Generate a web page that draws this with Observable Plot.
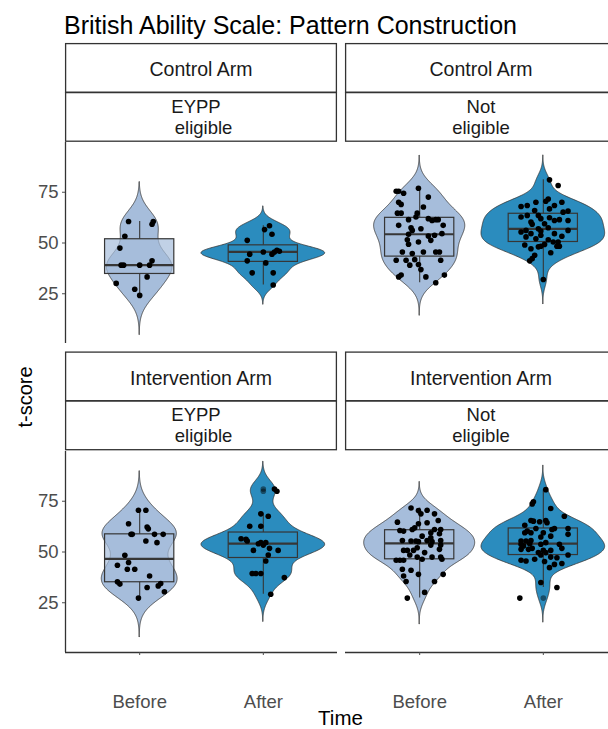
<!DOCTYPE html>
<html><head><meta charset="utf-8">
<script src="https://cdn.jsdelivr.net/npm/d3@7"></script>
<script src="https://cdn.jsdelivr.net/npm/@observablehq/plot@0.6"></script>
<style>
body{margin:0;background:#fff;}
#root{position:relative;width:608px;height:729px;overflow:hidden;background:#fff;font-family:"Liberation Sans",Arial,sans-serif;}
#root svg{position:absolute;}
</style></head><body><div id="root"></div>
<script>
// ---------- data ----------
const title = "British Ability Scale: Pattern Construction";
const times = ["Before", "After"];
const arms = ["Control Arm", "Intervention Arm"];
const eligLeft = ["EYPP  ", " eligible"];
const eligRight = ["Not", "eligible"];
const yTicks = [25, 50, 75];
const yLabel = "t-score";
const xLabel = "Time";

const ctrlEyppBefore = [60.6, 60.6, 59.2, 53.3, 47.5, 39.1, 39.1, 39.1, 39.1, 41.2, 33.3, 30.1, 27.2, 24.2];
const ctrlEyppBeforeJit = [-0.09, 0.11, 0.10, -0.12, -0.16, -0.15, -0.13, 0.0, 0.08, 0.10, 0.06, -0.19, -0.04, 0.0];
const ctrlEyppAfter = [56.6, 58.5, 54.3, 51.3, 44.5, 41.2, 45.6, 44.5, 45.6, 46.4, 45.9, 40.2, 35.3, 35.3, 29.3];
const ctrlEyppAfterJit = [0.01, 0.05, 0.07, -0.13, -0.11, -0.13, 0.0, 0.07, 0.09, 0.11, 0.13, 0.02, -0.09, 0.08, 0.08];

const ctrlNotBefore = [75.5,75.5,74.5,77.0,72.6,70.1,69.0,67.7,64.7,64.7,64.7,62.8,61.5,62.0,61.1,61.5,61.5,58.7,58.7,57.5,56.2,57.0,54.3,53.4,53.8,54.6,51.6,50.5,51.3,49.4,45.6,44.8,45.6,45.6,45.6,41.5,41.5,41.8,41.5,39.1,39.4,36.9,34.2,33.3,34.2,33.3,30.4];
const ctrlNotBeforeJit = [-0.19,-0.17,-0.13,-0.01,0.07,-0.17,-0.15,0.03,-0.18,-0.15,-0.02,-0.03,-0.09,0.07,0.10,0.13,0.15,-0.17,0.19,-0.07,-0.06,0.01,-0.09,0.07,0.12,0.18,-0.10,-0.01,0.09,-0.09,-0.14,-0.06,0.13,0.16,0.03,-0.19,-0.11,-0.04,0.17,-0.08,-0.01,0.01,-0.15,0.05,0.20,-0.17,0.13];
const ctrlNotAfter = [81.1,78.3,71.7,70.6,70.1,70.1,68.0,68.5,68.5,66.8,66.0,65.2,65.7,63.6,63.6,62.8,62.0,62.4,61.1,61.5,61.1,60.3,59.2,59.5,57.0,57.5,56.2,55.9,56.2,55.4,54.6,54.6,53.8,53.3,53.0,52.1,51.6,50.5,49.3,50.5,48.4,48.1,48.4,48.4,47.2,44.0,42.3,41.2,32.0,49.0,45.2];
const ctrlNotAfterJit = [0.05,0.12,0.04,0.02,-0.06,0.15,-0.18,-0.13,0.09,0.05,-0.07,0.16,0.20,-0.13,-0.04,-0.18,-0.02,0.05,0.09,0.13,0.20,-0.10,-0.09,0.01,-0.04,0.04,-0.14,-0.02,0.20,-0.18,-0.10,0.09,-0.02,0.15,-0.14,-0.06,0.04,0.12,0.01,0.08,-0.02,-0.04,0.11,0.13,-0.10,-0.07,-0.09,-0.11,0.0,-0.15,0.06];

const intEyppBefore = [70.6,70.6,63.9,62.3,61.4,58.7,58.7,58.7,58.7,55.4,54.6,48.4,44.8,43.5,41.5,41.5,38.2,35.3,34.2,32.5,34.5,33.3,30.4,27.3];
const intEyppBeforeJit = [-0.01,0.05,-0.09,0.06,0.07,-0.07,-0.06,0.12,0.19,0.05,0.14,-0.12,-0.09,-0.18,-0.04,-0.10,0.08,-0.18,-0.16,0.06,0.17,0.15,0.20,-0.01];
const intEyppAfter = [81.0,79.9,68.8,67.6,62.7,62.7,56.5,56.2,55.4,54.1,54.6,54.6,53.4,50.8,51.8,50.8,48.5,45.6,39.4,39.4,39.4,37.4,29.2];
const intEyppAfterJit = [0.09,0.11,-0.02,0.04,-0.11,-0.02,-0.18,-0.14,-0.13,-0.04,-0.02,0.02,0.0,-0.08,0.05,0.12,0.04,0.02,-0.09,-0.06,-0.02,0.17,0.06];

const intNotBefore = [71.7,70.4,70.6,68.8,68.8,64.7,65.5,63.9,64.4,60.6,60.3,61.1,61.9,59.5,61.1,61.1,59.0,57.8,57.0,55.7,55.4,55.4,55.1,55.7,55.1,55.7,50.8,50.8,50.8,52.1,53.4,53.4,51.3,49.7,48.5,47.5,47.5,47.5,46.4,45.9,45.9,45.9,46.4,41.5,41.0,38.2,39.0,39.0,35.5,35.5,30.1,27.3];
const intNotBeforeJit = [-0.07,-0.01,0.06,0.01,0.12,-0.18,0.15,-0.01,0.06,-0.16,-0.13,-0.06,-0.04,0.09,0.12,0.17,0.16,0.02,0.09,-0.14,-0.07,-0.03,-0.01,0.06,0.10,0.17,-0.13,-0.10,-0.05,-0.02,0.09,0.17,0.16,0.04,-0.08,-0.02,0.10,0.17,0.18,-0.19,-0.16,-0.13,0.02,-0.14,-0.07,-0.13,-0.01,0.19,-0.11,0.12,0.04,-0.10];
const intNotAfter = [80.7,74.7,73.7,71.4,67.6,63.2,65.5,65.2,64.9,64.4,65.5,61.6,61.1,61.6,61.6,60.3,59.5,59.5,59.5,58.7,57.4,57.8,55.4,55.4,55.7,53.8,53.0,54.1,53.8,54.6,53.8,51.3,51.3,51.8,50.8,50.8,51.8,49.7,49.7,45.9,45.6,46.4,48.5,47.5,47.2,48.5,45.3,42.3,43.9,44.3,35.0,32.5,27.3];
const intNotAfterJit = [0.02,-0.08,-0.09,0.06,0.17,-0.15,-0.10,-0.08,-0.03,0.03,0.02,-0.06,0.07,0.09,0.20,-0.13,-0.15,-0.10,0.0,0.20,-0.02,0.06,-0.18,-0.14,-0.10,-0.18,-0.16,-0.11,-0.02,0.02,0.13,-0.18,-0.12,-0.09,0.0,0.06,0.15,-0.04,0.02,-0.18,-0.14,-0.07,-0.02,0.06,0.11,0.20,0.01,0.05,0.09,0.15,-0.02,0.11,-0.19];

// ---------- style ----------
const LIGHT = "#a6bddb", DARK = "#2b8cbe";
const FONT = "Liberation Sans, Arial, sans-serif";
const Y0 = 0.5, Y1 = 99.5;
const VIOLIN_HALF = 0.5, BOX_HALF = 0.28;
const PW = 272, PH = 201;

const root = document.getElementById("root");

// ---------- overlay (title, strips, axis titles) ----------
const ov = d3.select(root).append("svg").attr("width", 608).attr("height", 729).style("left", "0px").style("top", "0px")
  .style("font-family", FONT);
ov.append("text").attr("x", 64).attr("y", 33.5).attr("font-size", 25).attr("fill", "#000").text(title);

function strip(x, y, arm, elig) {
  ov.append("rect").attr("x", x + 0.6).attr("y", y + 0.6).attr("width", PW - 1.2).attr("height", 48.6)
    .attr("fill", "#fff").attr("stroke", "#333").attr("stroke-width", 1.3);
  ov.append("rect").attr("x", x + 0.6).attr("y", y + 49.6).attr("width", PW - 1.2).attr("height", 48.6)
    .attr("fill", "#fff").attr("stroke", "#333").attr("stroke-width", 1.3);
  const cx = x + PW / 2;
  ov.append("text").attr("x", cx).attr("y", y + 33).attr("text-anchor", "middle").attr("font-size", 19.5).attr("fill", "#1a1a1a").text(arm);
  const t = ov.append("text").attr("text-anchor", "middle").attr("font-size", 18.5).attr("fill", "#1a1a1a").style("white-space", "pre");
  t.append("tspan").attr("x", cx).attr("y", y + 69.5).text(elig[0]);
  t.append("tspan").attr("x", cx).attr("y", y + 90.5).text(elig[1]);
}
strip(65, 43, arms[0], eligLeft);
strip(345, 43, arms[0], eligRight);
strip(65, 351.5, arms[1], eligLeft);
strip(345, 351.5, arms[1], eligRight);

ov.append("text").attr("transform", "translate(32,397) rotate(-90)").attr("text-anchor", "middle").attr("font-size", 20).attr("fill", "#000").text(yLabel);
ov.append("text").attr("x", 340.5).attr("y", 724.5).attr("text-anchor", "middle").attr("font-size", 20.5).attr("fill", "#000").text(xLabel);

// ---------- panels ----------
function buildPanel(before, beforeJit, after, afterJit, showY, showX) {
  const groups = [{t: 1, v: before, j: beforeJit}, {t: 2, v: after, j: afterJit}];
  const stats = groups.map(g => {
    const s = g.v.slice().sort(d3.ascending);
    const q1 = d3.quantile(s, 0.25), med = d3.quantile(s, 0.5), q3 = d3.quantile(s, 0.75);
    const iqr = q3 - q1, lo = q1 - 1.5 * iqr, hi = q3 + 1.5 * iqr;
    const inside = s.filter(v => v >= lo && v <= hi);
    const bw = 0.9 * Math.min(d3.deviation(s), iqr / 1.34) * Math.pow(s.length, -0.2);
    const ya = s[0] - 3 * bw, yb = s[s.length - 1] + 3 * bw, N = 300;
    const pts = d3.range(N).map(i => {
      const y = ya + (yb - ya) * i / (N - 1);
      let d = 0;
      for (const v of s) { const z = (y - v) / bw; d += Math.exp(-0.5 * z * z); }
      return {y, d: d / (s.length * bw * Math.sqrt(2 * Math.PI))};
    });
    return {t: g.t, q1, med, q3, wlo: d3.min(inside), whi: d3.max(inside), outliers: s.filter(v => v < lo || v > hi), pts};
  });
  const maxD = d3.max(stats, s => d3.max(s.pts, p => p.d));
  const violin = stats.flatMap(s => s.pts.map(p => ({t: s.t, y: p.y, x1: s.t - VIOLIN_HALF * p.d / maxD, x2: s.t + VIOLIN_HALF * p.d / maxD})));
  const points = groups.flatMap(g => g.v.map((v, i) => ({t: g.t, x: g.t + g.j[i], y: v})));
  const outl = stats.flatMap(s => s.outliers.map(v => ({t: s.t, y: v})));

  const marks = [
    Plot.areaX(violin, {y: "y", x1: "x1", x2: "x2", z: "t", fill: "t", stroke: "#333", strokeWidth: 0.8}),
    Plot.rect(stats, {x1: d => d.t - BOX_HALF, x2: d => d.t + BOX_HALF, y1: "q1", y2: "q3", fill: "t", fillOpacity: 0.7, stroke: "#363636", strokeWidth: 1.2}),
    Plot.ruleX(stats, {x: "t", y1: "q3", y2: "whi", stroke: "#363636", strokeWidth: 1.1}),
    Plot.ruleX(stats, {x: "t", y1: "wlo", y2: "q1", stroke: "#363636", strokeWidth: 1.1}),
    Plot.ruleY(stats, {y: "med", x1: d => d.t - BOX_HALF, x2: d => d.t + BOX_HALF, stroke: "#363636", strokeWidth: 2.2}),
    Plot.dot(outl, {x: "t", y: "y", r: 2.8, fill: "#000", fillOpacity: 0.45, stroke: null}),
    Plot.dot(points, {x: "x", y: "y", r: 2.8, fill: "#000", stroke: null})
  ];
  if (showY) {
    marks.push(Plot.ruleX([0.4], {stroke: "#333", strokeWidth: 1.3}));
    marks.push(Plot.axisY({ticks: yTicks, tickSize: 3, tickPadding: 4, label: null, fontSize: 18.5}));
  }
  if (showX) {
    marks.push(Plot.ruleY([Y0], {stroke: "#333", strokeWidth: 1.3}));
    marks.push(Plot.axisX({ticks: [1, 2], tickFormat: d => times[d - 1], tickSize: 3, tickPadding: 39, label: null, fontSize: 18.5}));
  }
  const mL = showY ? 65 : 0, mB = showX ? 77 : 0;
  return Plot.plot({
    width: PW + mL, height: PH + mB,
    marginLeft: mL, marginRight: 0, marginTop: 0, marginBottom: mB,
    x: {domain: [0.4, 2.6], axis: null},
    y: {domain: [Y0, Y1], axis: null},
    color: {type: "ordinal", domain: [1, 2], range: [LIGHT, DARK]},
    style: {background: "transparent", color: "#4d4d4d", fontFamily: FONT, fontSize: "18.5px", overflow: "visible"},
    marks
  });
}

function place(el, left, top) {
  el.style.position = "absolute";
  el.style.left = left + "px";
  el.style.top = top + "px";
  el.style.maxWidth = "none";
  root.appendChild(el);
}
place(buildPanel(ctrlEyppBefore, ctrlEyppBeforeJit, ctrlEyppAfter, ctrlEyppAfterJit, true, false), 0, 142);
place(buildPanel(ctrlNotBefore, ctrlNotBeforeJit, ctrlNotAfter, ctrlNotAfterJit, false, false), 345, 142);
place(buildPanel(intEyppBefore, intEyppBeforeJit, intEyppAfter, intEyppAfterJit, true, true), 0, 451);
place(buildPanel(intNotBefore, intNotBeforeJit, intNotAfter, intNotAfterJit, false, true), 345, 451);
</script></body></html>
